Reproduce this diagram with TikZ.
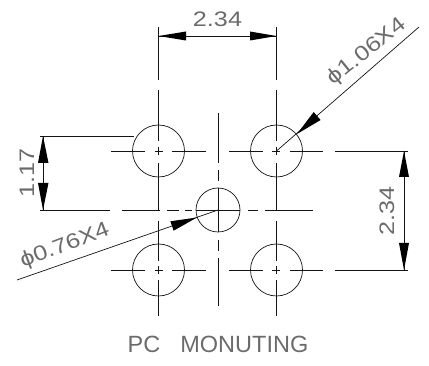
\documentclass[tikz,border=0pt]{standalone}
\usepackage{fontspec}
\setmainfont{Liberation Sans}
\newfontfamily\dimfont[FakeStretch=1.2]{Liberation Sans}
\definecolor{ink}{gray}{0.08}
\definecolor{txt}{gray}{0.42}
\tikzset{
  x=1pt,y=-1pt,
  hole/.style={draw=ink,line width=0.7pt,circle,inner sep=0pt,minimum size=#1},
  cl/.style={draw=ink,line width=0.7pt},
  lbl/.style={text=txt,font=\dimfont\fontsize{21}{21}\selectfont,inner sep=0pt},
  ttl/.style={text=txt,font=\fontsize{23.5}{24}\selectfont,inner sep=0pt},
  ah/.style={fill=black,draw=none}
}
\begin{document}
\begin{tikzpicture}
\useasboundingbox (0,0) rectangle (429,366);
% holes
\node[hole=52pt] (tl) at (158.5,151) {};
\node[hole=52pt] (tr) at (276.5,151) {};
\node[hole=52pt] (bl) at (158.5,270) {};
\node[hole=52pt] (br) at (276.5,270) {};
\node[hole=44pt] (c) at (218,210) {};
% centre lines: horizontal through outer holes
\foreach \yy in {151,270}{
  \draw[cl] (111,\yy) -- (145,\yy) (155,\yy) -- (163,\yy) (172,\yy) -- (206,\yy);
  \draw[cl] (229,\yy) -- (263,\yy) (272,\yy) -- (280,\yy) (290,\yy) -- (323,\yy) (335,\yy) -- (408,\yy);
}
% centre lines: vertical through outer holes
\foreach \xx in {158.5,276.5}{
  \draw[cl] (\xx,27) -- (\xx,80) (\xx,90) -- (\xx,141) (\xx,147) -- (\xx,155) (\xx,163) -- (\xx,210.5)
            (\xx,221) -- (\xx,261) (\xx,266) -- (\xx,274) (\xx,280) -- (\xx,316);
}
% centre hole cross
\draw[cl] (40,210) -- (110,210) (122,210) -- (160,210) (167,210) -- (179,210) (185,210) -- (192,210)
          (196,210) -- (240,210) (248,210) -- (258,210) (265,210) -- (313,210);
\draw[cl] (218,113) -- (218,163) (218,170) -- (218,181) (218,188) -- (218,232) (218,240) -- (218,251) (218,258) -- (218,306);
% dimensions
\coordinate (t1) at (158.5,36); \coordinate (t2) at (276.5,36);
\draw[cl] (t1) -- (t2);
\fill[ah] (t1) -- (186,31.5) -- (186,40.5) -- cycle;
\fill[ah] (t2) -- (250,31.5) -- (250,40.5) -- cycle;
\node[lbl] (d1) at (217.5,19) {2.34};
\coordinate (l1) at (43,136); \coordinate (l2) at (43,210);
\draw[cl] (l1) -- (l2) (40,136) -- (134,136);
\fill[ah] (l1) -- (38,163) -- (48.5,163) -- cycle;
\fill[ah] (l2) -- (38,183) -- (48.5,183) -- cycle;
\node[lbl,rotate=90] (d2) at (27,173) {1.17};
\coordinate (r1) at (404,151); \coordinate (r2) at (404,270);
\draw[cl] (r1) -- (r2);
\fill[ah] (r1) -- (399,177) -- (409,177) -- cycle;
\fill[ah] (r2) -- (399,243) -- (409,243) -- cycle;
\node[lbl,rotate=90] (d3) at (387,211) {2.34};
% leaders
\coordinate (lead1) at (419,27);
\draw[cl] (lead1) -- (tr.center);
\fill[ah] (297,134) -- (320.6,120) -- (313.7,112) -- cycle;
\node[lbl,rotate=39] (d4) at (367,52) {ϕ1.06X4};
\coordinate (lead2) at (17,280);
\draw[cl] (lead2) -- (c.center);
\fill[ah] (197,217.5) -- (173.6,230.7) -- (170.4,221.3) -- cycle;
\node[lbl,rotate=21] (d5) at (65,246) {ϕ0.76X4};
\node[ttl] (title) at (218,344) {PC\hspace{20pt}MONUTING};
\end{tikzpicture}
\end{document}
